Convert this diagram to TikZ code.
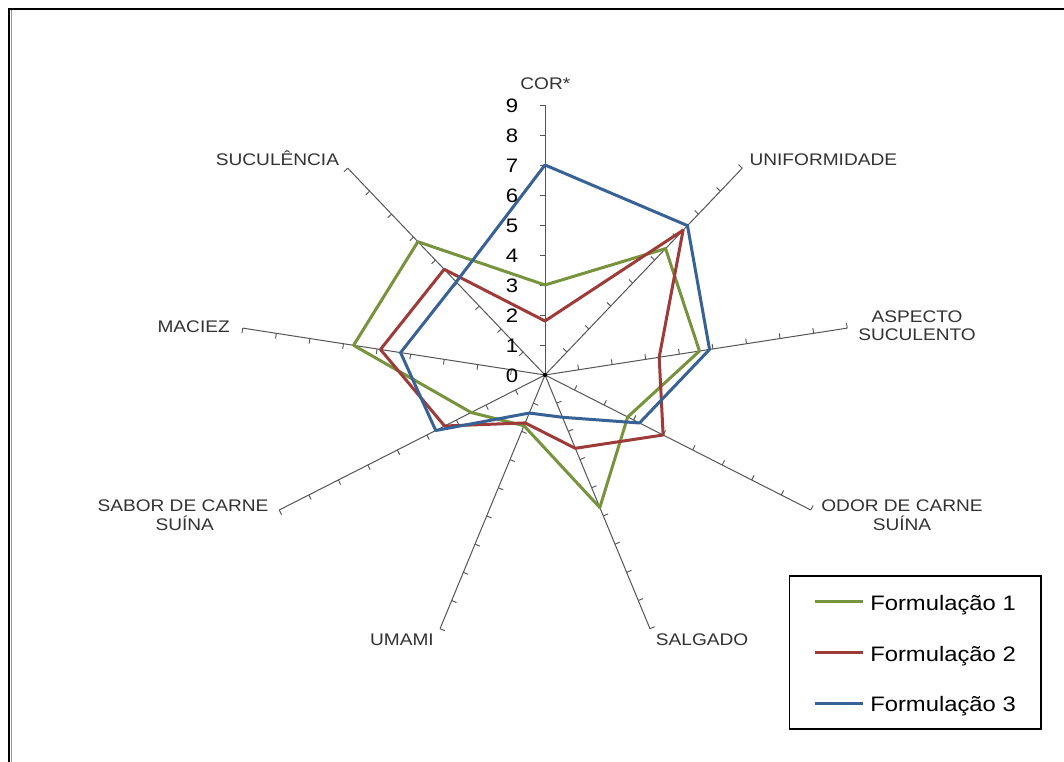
\documentclass[tikz,border=0pt]{standalone}
\usepackage{fontspec}
\setmainfont{Liberation Sans}
\usepackage{graphicx}
\usetikzlibrary{calc}
\newcommand{\sx}[1]{\scalebox{1.137}[1]{#1}}
\definecolor{fgreen}{RGB}{119,147,60}
\definecolor{fred}{RGB}{158,58,56}
\definecolor{fblue}{RGB}{56,97,150}
\definecolor{axisgray}{RGB}{85,85,85}
\begin{document}
\begin{tikzpicture}[x=0.75pt,y=-0.75pt,
  axisline/.style={draw=axisgray,line width=0.75pt},
  tickmark/.style={draw=axisgray,line width=0.7pt},
  series/.style={line width=2.25pt,line join=round},
  catlab/.style={font=\fontsize{12.6}{15}\selectfont, text=black!80, inner sep=0pt},
  numlab/.style={font=\fontsize{14.6}{16}\selectfont, inner sep=0pt, anchor=base},
  leglab/.style={font=\fontsize{15.7}{18}\selectfont, inner sep=0pt, anchor=base west},
  legline/.style={line width=2.25pt}]
\useasboundingbox (0,0) rectangle (1064,762);
\fill[white] (0,0) rectangle (1064,762);
% outer frame
\draw[black!40, line width=0.75pt] (11.5,10) -- (11.5,762);
\draw[black, line width=1.6pt] (1064,9) -- (9,9) -- (9,762);

\begin{scope}[shift={(545,375)}, x={(25.575pt,0pt)}, y={(0pt,22.5pt)}]
  \coordinate (O) at (0,0);
  % axes
  \foreach \k [evaluate=\k as \ang using 90-40*\k] in {0,...,8} {
    \draw[axisline] (O) -- (\ang:9) coordinate (A\k);
    \foreach \r in {1,...,9} {
      \draw[tickmark] (\ang:\r) -- ($(\ang:\r)!3.9pt!-90:(O)$);
    }
  }
  % series
  \draw[series, fgreen] (90:3) -- (50:5.5) -- (10:4.6) -- (-30:2.8) -- (-70:4.7)
     -- (-110:1.8) -- (-150:2.5) -- (-190:5.7) -- (-230:5.8) -- cycle;
  \draw[series, fred] (90:1.8) -- (50:6.3) -- (10:3.4) -- (-30:4.0) -- (-70:2.6)
     -- (-110:1.7) -- (-150:3.4) -- (-190:4.9) -- (-230:4.6) -- cycle;
  \draw[series, fblue] (90:7) -- (50:6.5) -- (10:4.9) -- (-30:3.2) -- (-70:1.5)
     -- (-110:1.35) -- (-150:3.7) -- (-190:4.3) -- (-230:4.05) -- cycle;
  \fill[black] (O) circle (1.6pt);
\end{scope}

% scale numbers
\foreach \n in {0,...,9} {
  \node[numlab] (n\n) at (512,{375-30*\n+7.8}) {\sx{\n}};
}

% category labels
\node[catlab, anchor=base] (lcor) at (545.3,90) {\sx{COR*}};
\node[catlab, anchor=base west] (lunif) at (749.3,166) {\sx{UNIFORMIDADE}};
\node[catlab, anchor=base] (lasp1) at (917,322.7) {\sx{ASPECTO}};
\node[catlab, anchor=base] (lasp2) at (917,341) {\sx{SUCULENTO}};
\node[catlab, anchor=base] (lodor1) at (902,512) {\sx{ODOR DE CARNE}};
\node[catlab, anchor=base] (lodor2) at (902,530.7) {\sx{SUÍNA}};
\node[catlab, anchor=base west] (lsal) at (655.7,645) {\sx{SALGADO}};
\node[catlab, anchor=base east] (luma) at (434,645) {\sx{UMAMI}};
\node[catlab, anchor=base] (lsab1) at (183,511.7) {\sx{SABOR DE CARNE}};
\node[catlab, anchor=base] (lsab2) at (184.7,530.7) {\sx{SUÍNA}};
\node[catlab, anchor=base east] (lmac) at (230,332.7) {\sx{MACIEZ}};
\node[catlab, anchor=base east] (lsuc) at (339.3,166) {\sx{SUCULÊNCIA}};

% legend
\draw[black, line width=0.9pt] (789.3,576) rectangle (1041,729);
\draw[legline, fgreen] (815,601.7) -- (863.3,601.7);
\draw[legline, fred] (815,652.7) -- (863.3,652.7);
\draw[legline, fblue] (815,703.3) -- (863.3,703.3);
\node[leglab] (leg1) at (870,610) {\sx{Formulação 1}};
\node[leglab] (leg2) at (870,661) {\sx{Formulação 2}};
\node[leglab] (leg3) at (870,711.5) {\sx{Formulação 3}};
\end{tikzpicture}
\end{document}
